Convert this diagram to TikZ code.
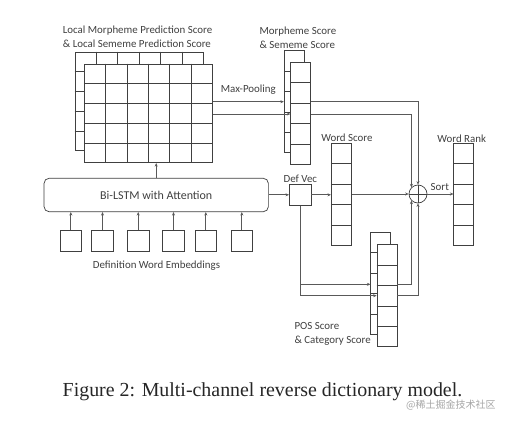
\documentclass[tikz,border=0pt]{standalone}
\usepackage{fontspec}
\setmainfont{Carlito}
\newfontfamily\capfont{Liberation Serif}
\newfontfamily\cjkfont{Noto Sans CJK SC}
\usetikzlibrary{calc,arrows.meta}
\newcommand\scorecol[3]{% name, x, y
  \node[box, minimum width=20pt, minimum height=102pt] (#1) at (#2,#3) {};
  \foreach \i in {1,...,4}
    \draw[boxline] ($(#1.north west)!\i/5!(#1.south west)$) -- ($(#1.north east)!\i/5!(#1.south east)$);
}
\newcommand\gridbox[3]{% name, x, y
  \node[box, minimum width=128pt, minimum height=98.7pt] (#1) at (#2,#3) {};
  \foreach \i in {1,...,5}
    \draw[boxline] ($(#1.north west)!\i/6!(#1.north east)$) -- ($(#1.south west)!\i/6!(#1.south east)$);
  \foreach \i in {1,...,4}
    \draw[boxline] ($(#1.north west)!\i/5!(#1.south west)$) -- ($(#1.north east)!\i/5!(#1.south east)$);
}
\begin{document}
\begin{tikzpicture}[x=1pt,y=-1pt,
  box/.style={draw=black!75, line width=0.7pt, fill=white, inner sep=0pt},
  boxline/.style={draw=black!75, line width=0.7pt},
  conn/.style={draw=black!65, line width=0.7pt, -{Stealth[length=3.5pt,width=3pt]}},
  lbl/.style={font=\fontsize{10.9}{14}\selectfont, text=black!75, inner sep=0pt},
  emb/.style={box, minimum width=21.5pt, minimum height=21pt},
]
\useasboundingbox[fill=white] (0,0) rectangle (510,423);

% big grids
\gridbox{gridb}{139}{101.4}
\gridbox{grid}{148.3}{113.4}

% score columns
\scorecol{msb}{294.2}{101.7}
\scorecol{ms}{300.7}{113.3}
\scorecol{ws}{341.3}{194.3}
\scorecol{wr}{463.8}{194.3}
\scorecol{psb}{380.8}{283.3}
\scorecol{ps}{387}{295.8}

% Bi-LSTM
\node[box, rounded corners=5pt, minimum width=224.3pt, minimum height=33.4pt,
      font=\fontsize{12}{14}\selectfont, text=black!75] (lstm) at (156.2,195) {Bi-LSTM with Attention};

% embeddings
\node[emb] (e1) at (70.8,241.2) {};
\node[emb] (e2) at (102.5,241.2) {};
\node[emb] (e3) at (138.2,241.2) {};
\node[emb] (e4) at (173.5,241.2) {};
\node[emb] (e5) at (205.8,241.2) {};
\node[emb] (e6) at (241.8,241.2) {};

% def vec
\node[box, minimum width=21.7pt, minimum height=21pt] (dv) at (300.2,194.8) {};

% sum
\node[box, circle, minimum size=18pt] (sum) at (418,194) {};
\draw[boxline] (sum.north) -- (sum.south) (sum.west) -- (sum.east);

% labels
\node[lbl, anchor=west, align=left] (lt) at (62.7,37) {Local Morpheme Prediction Score\\\& Local Sememe Prediction Score};
\node[lbl, anchor=west, align=left] (lm) at (259.3,37.5) {Morpheme Score\\\& Sememe Score};
\node[lbl, anchor=west] (lmp) at (220.7,90) {Max-Pooling};
\node[lbl] (lws) at (346.9,137.3) {Word Score};
\node[lbl] (ldv) at (300.3,179) {Def Vec};
\node[lbl] (lso) at (439.8,187) {Sort};
\node[lbl] (lwr) at (461.7,139) {Word Rank};
\node[lbl, anchor=west, align=left] (lps) at (294.3,334.2) {POS Score\\\& Category Score};
\node[lbl] (lde) at (156.5,266) {Definition Word Embeddings};

% connectors
\foreach \e in {e1,e2,e3,e4,e5,e6}
  \draw[conn] (\e.north) -- (\e.north |- lstm.south);
\draw[conn] (lstm.north) -- (lstm.north |- grid.south);
\draw[conn] (lstm.east |- dv.west) -- (dv.west);
\draw[conn] (dv.east) -- (dv.east -| ws.west);
\draw[conn] (ws.east |- sum.west) -- (sum.west);
\draw[conn] (sum.east) -- (sum.east -| wr.west);

\draw[conn] (grid.east |- 0,101.7) -- (msb.west |- 0,101.7);
\draw[conn] (grid.east |- 0,114) -- (ms.west |- 0,114);
\draw[conn] (ms.east |- 0,101.7) -| (sum.north);
\draw[conn] (ms.east |- 0,114) -| (sum.135);

\draw[conn] (dv.south) |- (psb.west |- 0,284.3);
\draw[conn] (dv.south) |- (ps.west |- 0,295.7);
\draw[conn] (ps.east |- 0,284.3) -| (sum.225);
\draw[conn] (ps.east |- 0,295.7) -| (sum.south);

% caption
\node[inner sep=0pt, text=black!85, font=\capfont\fontsize{19.9}{22}\selectfont] (cap) at (262.5,391.7) {Figure 2: Multi-channel reverse dictionary model.};
\node[inner sep=0pt, text=black!35, font=\cjkfont\fontsize{10}{12}\selectfont] (wm) at (450.8,405) {@稀土掘金技术社区};
\end{tikzpicture}
\end{document}
